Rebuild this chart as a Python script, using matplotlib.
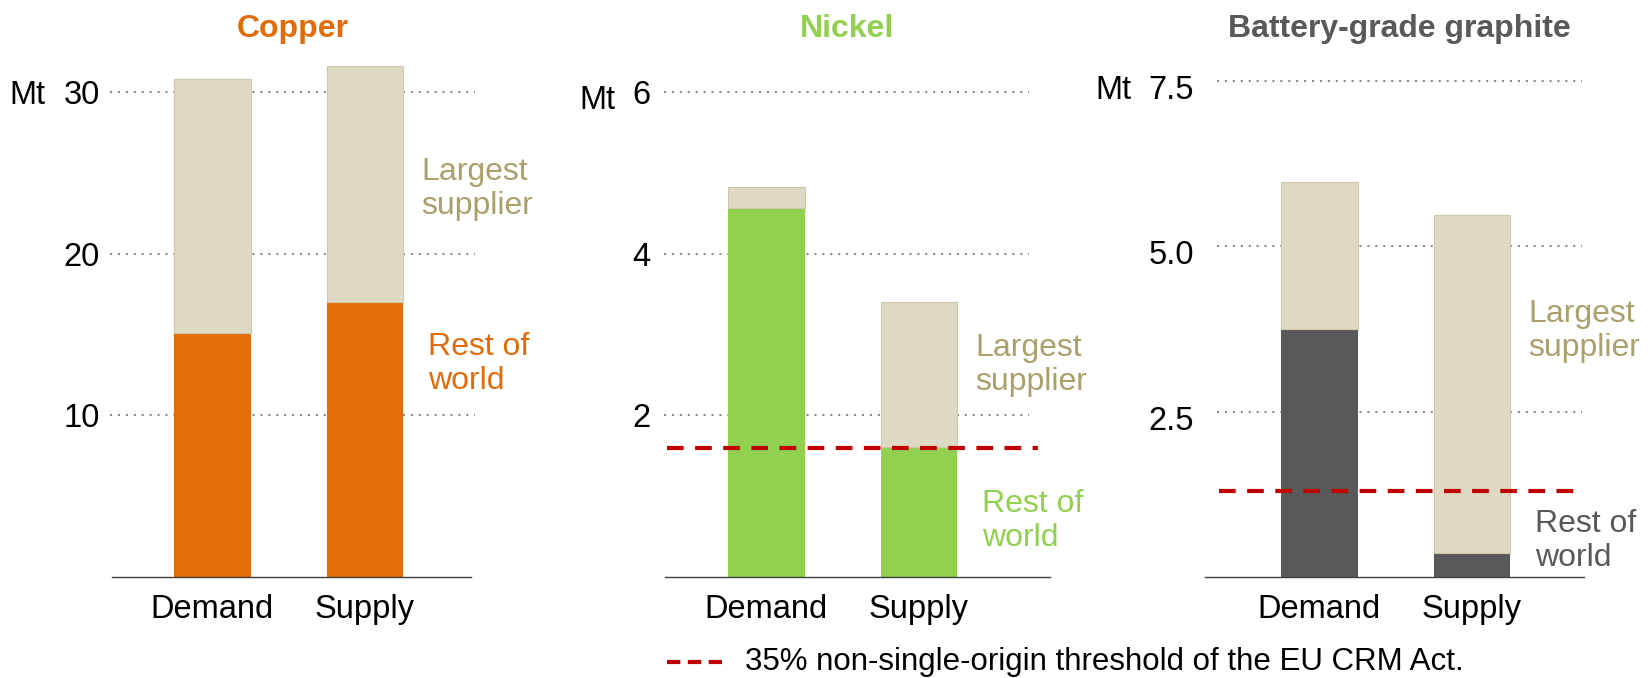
import numpy as np
import matplotlib
matplotlib.use("Agg")
import matplotlib.pyplot as plt
from matplotlib.lines import Line2D
from matplotlib.transforms import ScaledTranslation, blended_transform_factory

plt.rcParams["font.family"] = ["Liberation Sans", "DejaVu Sans"]

# Values in Mt, read per material: rest-of-world share and largest-supplier share
materials = ["Copper", "Nickel", "Battery-grade graphite"]
categories = ["Demand", "Supply"]
rest_of_world = [[15.1, 17.0], [4.57, 1.61], [3.75, 0.36]]
largest_supplier = [[15.75, 14.65], [0.26, 1.80], [2.22, 5.11]]
threshold = [None, 1.60, 1.30]
y_ticks = [[10, 20, 30], [2, 4, 6], [2.5, 5.0, 7.5]]
y_tick_labels = [["10", "20", "30"], ["2", "4", "6"], ["2.5", "5.0", "7.5"]]
y_max = [32.0, 6.40, 7.82]
legend_text = "35% non-single-origin threshold of the EU CRM Act."

# Styling
main_colors = ["#E36C0A", "#92D050", "#595959"]
beige = "#DDD9C3"
beige_edge = "#CFC8AC"
beige_text = "#AAA06C"
red = "#C00000"
grid_grey = "#8C8C8C"
FS = 23.0
TICK_FS = 23.5

W, H = 1648, 678
panel_left = [110, 664, 1217]     # px
panel_width = 365
panel_bottom = 101
panel_height = 517
tick_pad = [7.2, 10.0, 16.5]      # pt
ytick_dy = [0, 0, -6]             # px shift of y tick labels
mt_offset = [65, 49, 86]          # px left of axes
mt_dy = [0, -5, -6]               # px
base_span = [(0.005, 0.99), (0.003, 1.058), (-0.033, 1.005)]   # axes fraction
thr_span = [None, (0.008, 1.025), (0.005, 0.997)]
largest_y = [24.0, 2.62, 3.72]
rest_y = [13.2, 0.69, 0.55]

fig = plt.figure(figsize=(W / 100, H / 100), dpi=100)

for i, name in enumerate(materials):
    ax = fig.add_axes([panel_left[i] / W, panel_bottom / H,
                       panel_width / W, panel_height / H])
    x = np.arange(len(categories))
    ax.bar(x, rest_of_world[i], width=0.5, color=main_colors[i], zorder=3)
    ax.bar(x, largest_supplier[i], bottom=rest_of_world[i], width=0.5,
           color=beige, edgecolor=beige_edge, linewidth=0.8, zorder=3)

    ax.set_xlim(-0.67, 1.72)
    ax.set_ylim(0, y_max[i])
    ax.set_xticks(x)
    ax.set_xticklabels(categories)
    ax.set_yticks(y_ticks[i])
    ax.set_yticklabels(y_tick_labels[i])
    ax.yaxis.grid(True, linestyle=(0, (1, 2.8)), color=grid_grey,
                  linewidth=1.5, zorder=0)
    ax.set_axisbelow(True)
    for side in ax.spines:
        ax.spines[side].set_visible(False)
    ax.tick_params(axis="both", length=0, labelsize=TICK_FS)
    ax.tick_params(axis="y", pad=tick_pad[i])
    ax.tick_params(axis="x", pad=12.5)
    if ytick_dy[i]:
        shift = ScaledTranslation(0, ytick_dy[i] / 100, fig.dpi_scale_trans)
        for lab in ax.get_yticklabels():
            lab.set_transform(lab.get_transform() + shift)

    xy_blend = blended_transform_factory(ax.transAxes, ax.transData)

    # baseline
    ax.plot(base_span[i], [0, 0], transform=xy_blend, color="#404040",
            linewidth=1.0, clip_on=False, zorder=5)

    if threshold[i] is not None:
        ax.plot(thr_span[i], [threshold[i]] * 2, transform=xy_blend,
                color=red, linewidth=3, dashes=(4, 2.75), clip_on=False,
                zorder=4)

    # panel title
    ax.text(0.5, 1 + 31 / panel_height, name, transform=ax.transAxes,
            ha="center", va="center", fontsize=FS, fontweight="bold",
            color=main_colors[i])

    # unit label next to the top tick
    ax.annotate("Mt", xy=(0, y_ticks[i][-1]),
                xycoords=("axes fraction", "data"),
                xytext=(-mt_offset[i] * 0.72, mt_dy[i] * 0.72),
                textcoords="offset points", ha="right", va="center_baseline",
                fontsize=TICK_FS)

    # segment labels right of the supply bar
    ax.text(1.37, largest_y[i], "Largest\nsupplier", color=beige_text,
            fontsize=FS, ha="left", va="center", linespacing=1.18,
            clip_on=False)
    ax.text(1.41, rest_y[i], "Rest of\nworld", color=main_colors[i],
            fontsize=FS, ha="left", va="center", linespacing=1.18,
            clip_on=False)

# legend for the threshold line
ly = 1 - 662 / H
fig.add_artist(Line2D([667 / W, 723 / W], [ly, ly], transform=fig.transFigure,
                      color=red, linewidth=3, dashes=(3.2, 1.8)))
fig.text(745 / W, ly, legend_text, ha="left", va="center", fontsize=22.5)

fig.savefig("out.png", dpi=100)
